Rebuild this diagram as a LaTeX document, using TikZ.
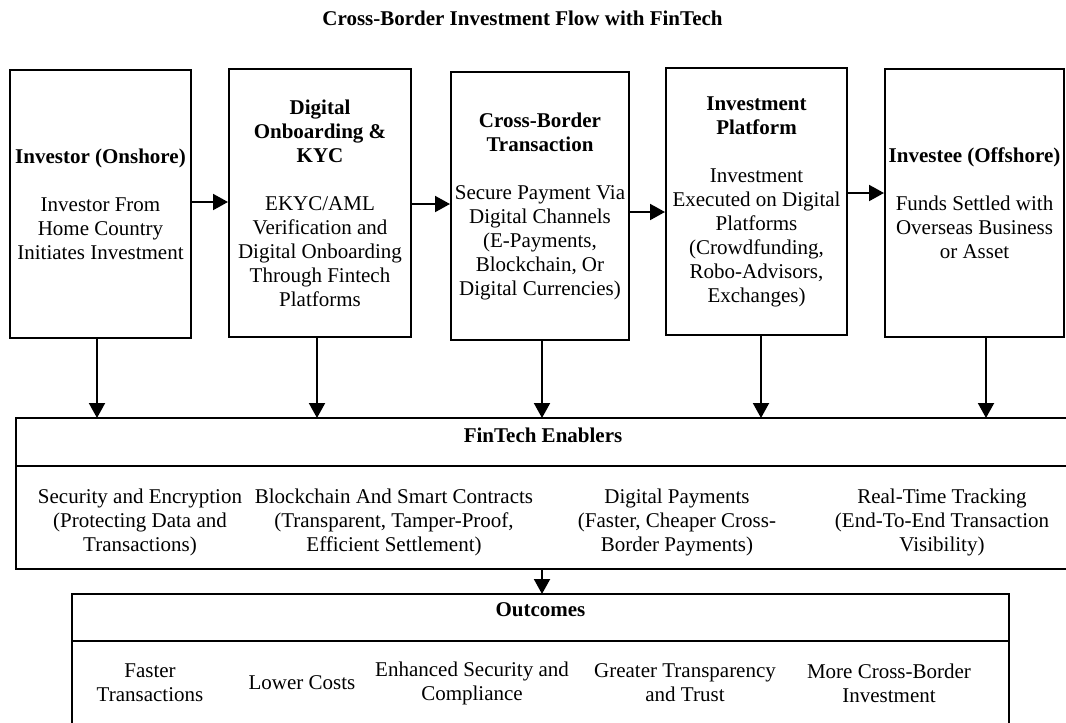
\documentclass[tikz,border=0pt]{standalone}
\usepackage{fontspec}
\setmainfont{Liberation Serif}
\usetikzlibrary{arrows.meta}

\tikzset{
    flowbox/.style={draw, rectangle, align=center, inner sep=1pt,
        minimum width=90.5pt, minimum height=134pt,
        font=\fontsize{10.5}{12}\selectfont},
    bandbox/.style={draw, rectangle, inner sep=0pt, outer sep=0pt},
    bandtitle/.style={inner sep=0pt, font=\fontsize{10.5}{12}\selectfont\bfseries},
    bandtext/.style={align=center, inner sep=0pt, font=\fontsize{10.5}{12}\selectfont},
    arr/.style={-{Triangle[length=7.5pt,width=8pt]}}
}

\begin{document}
\begin{tikzpicture}[x=0.5pt, y=-0.5pt, line width=1pt]
    \useasboundingbox (0,0) rectangle (1066,723);
    \node (title) at (522.5,18) {\fontsize{10.5}{12}\selectfont\bfseries Cross-Border Investment Flow with FinTech};

    % flow row
    \node (inv)[flowbox] at (100.5,204) {\textbf{Investor (Onshore)}\\[12pt]Investor From\\Home Country\\Initiates Investment};
    \node (kyc)[flowbox, minimum width=91pt] at (320,203) {\textbf{Digital}\\\textbf{Onboarding \&}\\\textbf{KYC}\\[12pt]EKYC/AML\\Verification and\\Digital Onboarding\\Through Fintech\\Platforms};
    \node (trans)[flowbox, minimum width=89pt] at (540,206) {\textbf{Cross-Border}\\\textbf{Transaction}\\[12pt]Secure Payment Via\\Digital Channels\\(E-Payments,\\Blockchain, Or\\Digital Currencies)};
    \node (plat)[flowbox, minimum height=133.5pt] at (756.5,201.5) {\textbf{Investment}\\\textbf{Platform}\\[12pt]Investment\\Executed on Digital\\Platforms\\(Crowdfunding,\\Robo-Advisors,\\Exchanges)};
    \node (invee)[flowbox, minimum width=89.5pt] at (974.5,203) {\textbf{Investee (Offshore)}\\[12pt]Funds Settled with\\Overseas Business\\or Asset};

    \draw[arr] (inv.east |- 0,202) -- (kyc.west |- 0,202);
    \draw[arr] (kyc.east |- 0,204) -- (trans.west |- 0,204);
    \draw[arr] (trans.east |- 0,212) -- (plat.west |- 0,212);
    \draw[arr] (plat.east |- 0,193) -- (invee.west |- 0,193);

    % enablers
    \node (enabhead)[bandbox, minimum width=527pt, minimum height=24pt] at (543,442) {};
    \node (enabbody)[bandbox, minimum width=527pt, minimum height=51.5pt, anchor=north] at (enabhead.south) {};
    \node (enabtitle)[bandtitle] at (543,435) {FinTech Enablers};
    \node (sec)[bandtext] at (140,522) {Security and Encryption\\(Protecting Data and\\Transactions)};
    \node (chain)[bandtext] at (394,522) {Blockchain And Smart Contracts\\(Transparent, Tamper-Proof,\\Efficient Settlement)};
    \node (pay)[bandtext] at (677,522) {Digital Payments\\(Faster, Cheaper Cross-\\Border Payments)};
    \node (track)[bandtext] at (942,522) {Real-Time Tracking\\(End-To-End Transaction\\Visibility)};

    \foreach \b/\x in {inv/97, kyc/317, trans/542, plat/761, invee/986}
        \draw[arr] (\b.south -| \x,0) -- (enabhead.north -| \x,0);

    % outcomes
    \node (outhead)[bandbox, minimum width=468.5pt, minimum height=23.5pt] at (540.5,617.5) {};
    \node (outbody)[bandbox, minimum width=468.5pt, minimum height=42pt, anchor=north] at (outhead.south) {};
    \node (outtitle)[bandtitle] at (540.5,610) {Outcomes};
    \draw[arr] (enabbody.south -| 542,0) -- (outhead.north -| 542,0);
    \node (fast)[bandtext] at (150,683) {Faster\\Transactions};
    \node (cost)[bandtext] at (302,683) {Lower Costs};
    \node (secu)[bandtext] at (472,683) {Enhanced Security and\\Compliance};
    \node (trust)[bandtext] at (685,683) {Greater Transparency\\and Trust};
    \node (more)[bandtext] at (889,683) {More Cross-Border\\Investment};
\end{tikzpicture}
\end{document}
